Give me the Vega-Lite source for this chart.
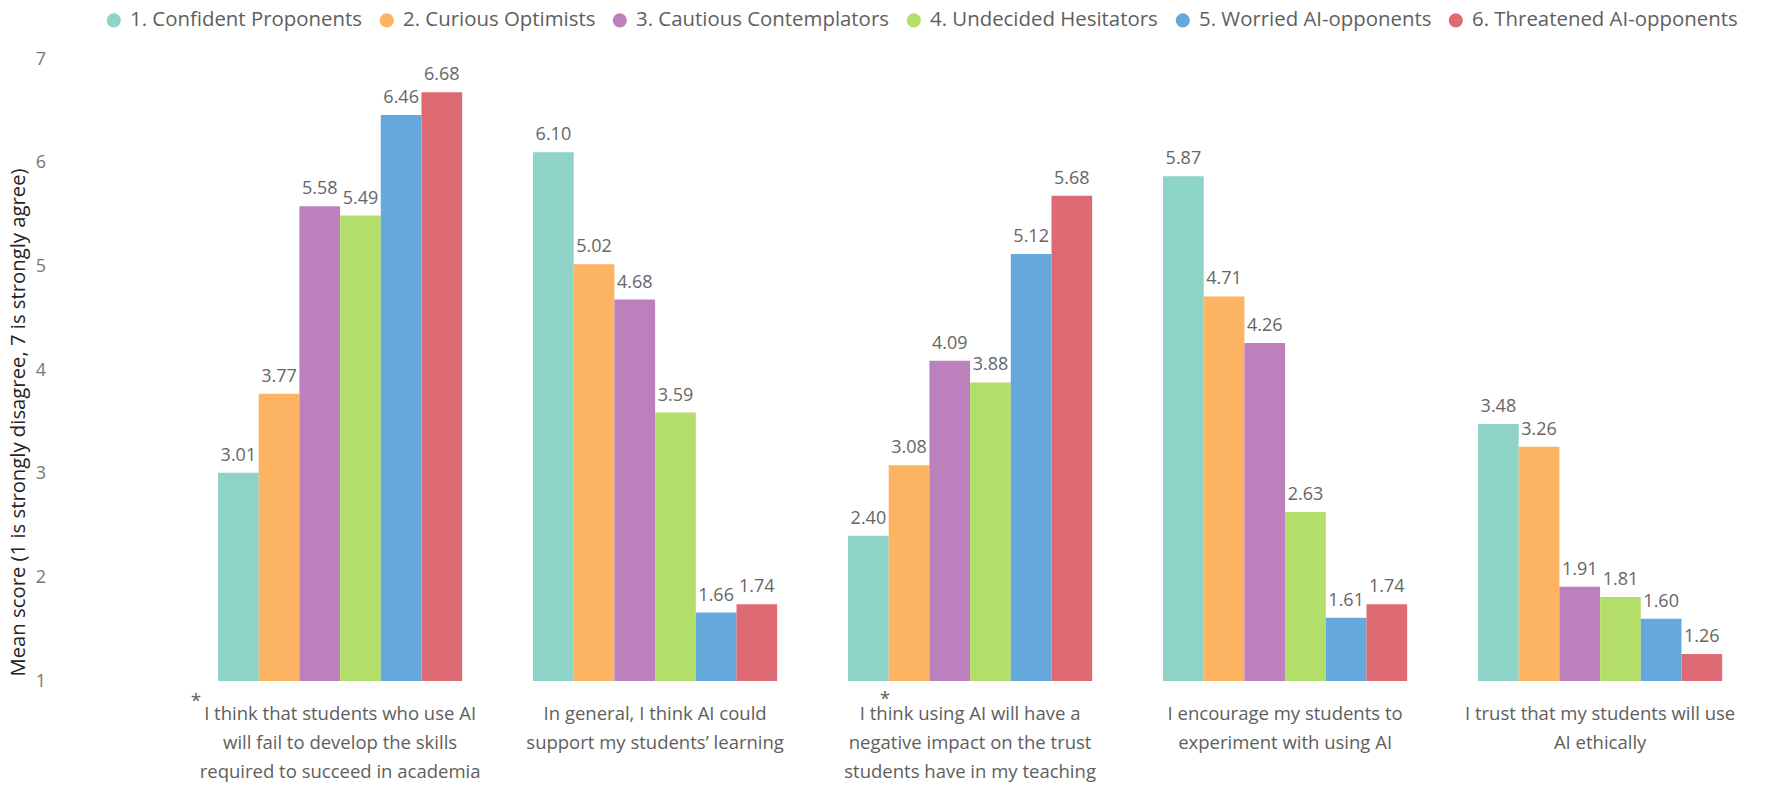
{
  "$schema": "https://vega.github.io/schema/vega-lite/v6.json",
  "width": 1575,
  "height": 622,
  "autosize": {"type": "none"},
  "padding": {"left": 182.6, "top": 59, "right": 9.4, "bottom": 104},
  "background": "white",
  "config": {
    "view": {"stroke": null},
    "font": "Open Sans"
  },
  "data": {
    "values": [
      {"question": "I think that students who use AI will fail to develop the skills required to succeed in academia", "segment": "1. Confident Proponents", "score": 3.01},
      {"question": "I think that students who use AI will fail to develop the skills required to succeed in academia", "segment": "2. Curious Optimists", "score": 3.77},
      {"question": "I think that students who use AI will fail to develop the skills required to succeed in academia", "segment": "3. Cautious Contemplators", "score": 5.58},
      {"question": "I think that students who use AI will fail to develop the skills required to succeed in academia", "segment": "4. Undecided Hesitators", "score": 5.49},
      {"question": "I think that students who use AI will fail to develop the skills required to succeed in academia", "segment": "5. Worried AI-opponents", "score": 6.46},
      {"question": "I think that students who use AI will fail to develop the skills required to succeed in academia", "segment": "6. Threatened AI-opponents", "score": 6.68},
      {"question": "In general, I think AI could support my students’ learning", "segment": "1. Confident Proponents", "score": 6.10},
      {"question": "In general, I think AI could support my students’ learning", "segment": "2. Curious Optimists", "score": 5.02},
      {"question": "In general, I think AI could support my students’ learning", "segment": "3. Cautious Contemplators", "score": 4.68},
      {"question": "In general, I think AI could support my students’ learning", "segment": "4. Undecided Hesitators", "score": 3.59},
      {"question": "In general, I think AI could support my students’ learning", "segment": "5. Worried AI-opponents", "score": 1.66},
      {"question": "In general, I think AI could support my students’ learning", "segment": "6. Threatened AI-opponents", "score": 1.74},
      {"question": "I think using AI will have a negative impact on the trust students have in my teaching", "segment": "1. Confident Proponents", "score": 2.40},
      {"question": "I think using AI will have a negative impact on the trust students have in my teaching", "segment": "2. Curious Optimists", "score": 3.08},
      {"question": "I think using AI will have a negative impact on the trust students have in my teaching", "segment": "3. Cautious Contemplators", "score": 4.09},
      {"question": "I think using AI will have a negative impact on the trust students have in my teaching", "segment": "4. Undecided Hesitators", "score": 3.88},
      {"question": "I think using AI will have a negative impact on the trust students have in my teaching", "segment": "5. Worried AI-opponents", "score": 5.12},
      {"question": "I think using AI will have a negative impact on the trust students have in my teaching", "segment": "6. Threatened AI-opponents", "score": 5.68},
      {"question": "I encourage my students to experiment with using AI", "segment": "1. Confident Proponents", "score": 5.87},
      {"question": "I encourage my students to experiment with using AI", "segment": "2. Curious Optimists", "score": 4.71},
      {"question": "I encourage my students to experiment with using AI", "segment": "3. Cautious Contemplators", "score": 4.26},
      {"question": "I encourage my students to experiment with using AI", "segment": "4. Undecided Hesitators", "score": 2.63},
      {"question": "I encourage my students to experiment with using AI", "segment": "5. Worried AI-opponents", "score": 1.61},
      {"question": "I encourage my students to experiment with using AI", "segment": "6. Threatened AI-opponents", "score": 1.74},
      {"question": "I trust that my students will use AI ethically", "segment": "1. Confident Proponents", "score": 3.48},
      {"question": "I trust that my students will use AI ethically", "segment": "2. Curious Optimists", "score": 3.26},
      {"question": "I trust that my students will use AI ethically", "segment": "3. Cautious Contemplators", "score": 1.91},
      {"question": "I trust that my students will use AI ethically", "segment": "4. Undecided Hesitators", "score": 1.81},
      {"question": "I trust that my students will use AI ethically", "segment": "5. Worried AI-opponents", "score": 1.60},
      {"question": "I trust that my students will use AI ethically", "segment": "6. Threatened AI-opponents", "score": 1.26}
    ]
  },
  "encoding": {
    "x": {
      "field": "question",
      "type": "nominal",
      "sort": null,
      "scale": {"paddingInner": 0.225, "paddingOuter": 0.1125},
      "axis": {
        "title": null,
        "domain": false,
        "ticks": false,
        "labelAngle": 0,
        "labelFontSize": 18.5,
        "labelColor": "#605E5C",
        "labelPadding": 23,
        "labelLineHeight": 29,
        "labelLimit": 400,
        "labelExpr": "datum.label == 'I think that students who use AI will fail to develop the skills required to succeed in academia' ? ['I think that students who use AI', 'will fail to develop the skills', 'required to succeed in academia'] : datum.label == 'In general, I think AI could support my students’ learning' ? ['In general, I think AI could', 'support my students’ learning'] : datum.label == 'I think using AI will have a negative impact on the trust students have in my teaching' ? ['I think using AI will have a', 'negative impact on the trust', 'students have in my teaching'] : datum.label == 'I encourage my students to experiment with using AI' ? ['I encourage my students to', 'experiment with using AI'] : ['I trust that my students will use', 'AI ethically']"
      }
    },
    "y": {
      "field": "score",
      "type": "quantitative",
      "scale": {"domain": [1, 7], "zero": false, "nice": false},
      "axis": {
        "title": "Mean score (1 is strongly disagree, 7 is strongly agree)",
        "values": [1, 2, 3, 4, 5, 6, 7],
        "grid": false,
        "domain": false,
        "ticks": false,
        "offset": 132,
        "labelPadding": 5,
        "labelFontSize": 18,
        "labelColor": "#777777",
        "titleFontSize": 20.3,
        "titleFontWeight": "normal",
        "titleColor": "#252423",
        "titleAngle": -90,
        "titleAlign": "center",
        "titleBaseline": "middle",
        "titleX": -32.6,
        "titleY": 363
      }
    }
  },
  "layer": [
    {
      "mark": {"type": "bar"},
      "encoding": {
        "xOffset": {"field": "segment", "type": "nominal", "sort": null, "scale": {"paddingInner": 0, "paddingOuter": 0}},
        "y2": {"datum": 1},
        "color": {
          "field": "segment",
          "type": "nominal",
          "sort": null,
          "scale": {
            "domain": ["1. Confident Proponents", "2. Curious Optimists", "3. Cautious Contemplators", "4. Undecided Hesitators", "5. Worried AI-opponents", "6. Threatened AI-opponents"],
            "range": ["#8DD3C7", "#FDB462", "#BC80BD", "#B3DE69", "#64A8DC", "#DE6A73"]
          },
          "legend": {
            "orient": "none",
            "legendX": -79,
            "legendY": -49,
            "direction": "horizontal",
            "title": null,
            "symbolType": "circle",
            "symbolSize": 200,
            "symbolStrokeWidth": 0,
            "labelFontSize": 20.4,
            "labelColor": "#605E5C",
            "labelOffset": 6,
            "columnPadding": 14,
            "padding": 0,
            "labelLimit": 400
          }
        }
      }
    },
    {
      "mark": {"type": "text", "baseline": "alphabetic", "dy": -12, "fontSize": 18, "color": "#666666"},
      "encoding": {
        "xOffset": {"field": "segment", "type": "nominal", "sort": null, "scale": {"paddingInner": 0, "paddingOuter": 0}},
        "text": {"field": "score", "type": "quantitative", "format": ".2f"}
      }
    },
    {
      "transform": [
        {"filter": "datum.segment == '1. Confident Proponents' && datum.question == 'I think that students who use AI will fail to develop the skills required to succeed in academia'"}
      ],
      "mark": {"type": "text", "text": "*", "baseline": "alphabetic", "dx": -144, "dy": 26, "fontSize": 19, "color": "#605E5C"},
      "encoding": {"y": {"datum": 1}}
    },
    {
      "transform": [
        {"filter": "datum.segment == '1. Confident Proponents' && datum.question == 'I think using AI will have a negative impact on the trust students have in my teaching'"}
      ],
      "mark": {"type": "text", "text": "*", "baseline": "alphabetic", "dx": -85, "dy": 24, "fontSize": 19, "color": "#605E5C"},
      "encoding": {"y": {"datum": 1}}
    }
  ]
}
